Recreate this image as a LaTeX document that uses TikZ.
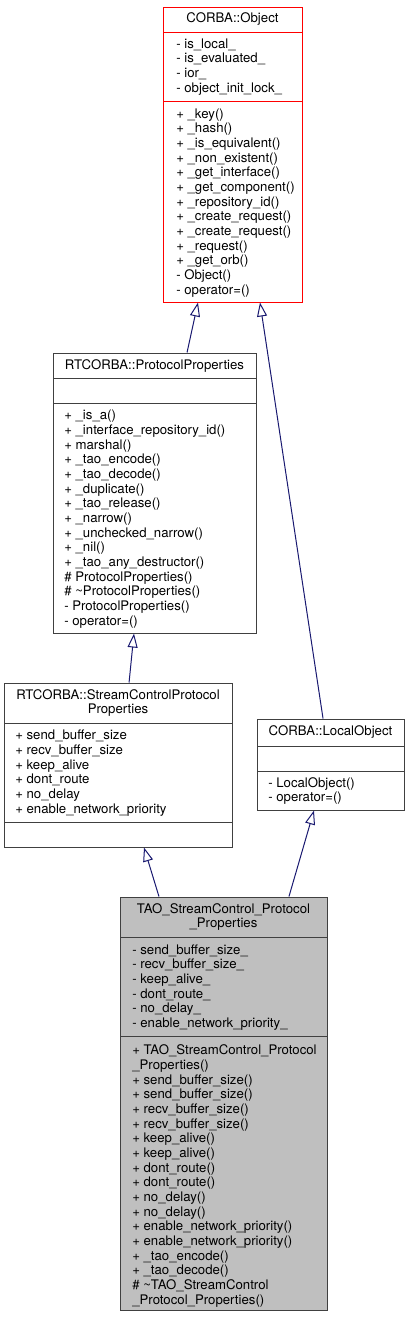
\documentclass[tikz,border=0pt]{standalone}
\usepackage{fontspec}
\setmainfont{TeX Gyre Heros}
\usetikzlibrary{arrows.meta,fit}
\definecolor{edgeblue}{HTML}{191970}
\definecolor{boxgray}{HTML}{404040}
\definecolor{taogray}{HTML}{BFBFBF}
\begin{document}
\begin{tikzpicture}[x=0.75pt, y=-0.75pt,
	classbox/.style={draw=boxgray, line width=0.75pt, inner sep=0pt},
	sep/.style={draw=boxgray, line width=0.75pt},
	title/.style={anchor=north, inner sep=0pt, align=center, font=\fontsize{9.9}{10.5}\selectfont},
	member/.style={anchor=north west, inner sep=0pt, align=left, font=\fontsize{9.9}{11}\selectfont},
	inherit/.style={draw=edgeblue, line width=0.75pt, -{Triangle[open, length=10.5pt, width=7.5pt]}}]
				\useasboundingbox (0,0) rectangle (409,1317);
				
				\node[classbox, draw=red, fit={(163,7) (302,302)}] (object) {};
				\node[classbox, fit={(53,353) (256,633)}] (protocol) {};
				\node[classbox, fit={(4,683) (232,847)}] (stream) {};
				\node[classbox, fit={(257,719) (404,810)}] (local) {};
				\node[classbox, fill=taogray, fit={(120,897) (327,1310)}] (tao) {};
				
				\draw[sep, draw=red] (163,32) -- (302,32) (163,101) -- (302,101);
				\draw[sep] (53,378) -- (256,378) (53,403) -- (256,403);
				\draw[sep] (4,723) -- (232,723) (4,822) -- (232,822);
				\draw[sep] (257,746) -- (404,746) (257,771) -- (404,771);
				\draw[sep] (120,937) -- (327,937) (120,1036) -- (327,1036);
				
				\path (232.5,12.7) node[title] (object-title) {\strut CORBA::Object}
				(176,37.7) node[member] (object-attr) {\strut - is\_local\_\\- is\_evaluated\_\\- ior\_\\- object\_init\_lock\_}
				(176,107.7) node[member] (object-ops) {\strut + \_key()\\+ \_hash()\\+ \_is\_equivalent()\\+ \_non\_existent()\\+ \_get\_interface()\\+ \_get\_component()\\+ \_repository\_id()\\+ \_create\_request()\\+ \_create\_request()\\+ \_request()\\+ \_get\_orb()\\- Object()\\- operator=()};
				
				\path (154.5,359.4) node[title] (protocol-title) {\strut RTCORBA::ProtocolProperties}
				(64,409.4) node[member] (protocol-ops) {\strut + \_is\_a()\\+ \_interface\_repository\_id()\\+ marshal()\\+ \_tao\_encode()\\+ \_tao\_decode()\\+ \_duplicate()\\+ \_tao\_release()\\+ \_narrow()\\+ \_unchecked\_narrow()\\+ \_nil()\\+ \_tao\_any\_destructor()\\\# ProtocolProperties()\\\# \textasciitilde ProtocolProperties()\\- ProtocolProperties()\\- operator=()};
				
				\path (118,689.4) node[title] (stream-title) {\strut RTCORBA::StreamControlProtocol\\Properties}
				(15,729.4) node[member] (stream-attr) {\strut + send\_buffer\_size\\+ recv\_buffer\_size\\+ keep\_alive\\+ dont\_route\\+ no\_delay\\+ enable\_network\_priority};
				
				\path (330.5,725.4) node[title] (local-title) {\strut CORBA::LocalObject}
				(268,776.7) node[member] (local-ops) {\strut - LocalObject()\\- operator=()};
				
				\path (223.5,903.7) node[title] (tao-title) {\strut TAO\_StreamControl\_Protocol\\\_Properties}
				(132,943.7) node[member] (tao-attr) {\strut - send\_buffer\_size\_\\- recv\_buffer\_size\_\\- keep\_alive\_\\- dont\_route\_\\- no\_delay\_\\- enable\_network\_priority\_}
				(132,1044.4) node[member] (tao-ops) {\strut + TAO\_StreamControl\_Protocol\\\_Properties()\\+ send\_buffer\_size()\\+ send\_buffer\_size()\\+ recv\_buffer\_size()\\+ recv\_buffer\_size()\\+ keep\_alive()\\+ keep\_alive()\\+ dont\_route()\\+ dont\_route()\\+ no\_delay()\\+ no\_delay()\\+ enable\_network\_priority()\\+ enable\_network\_priority()\\+ \_tao\_encode()\\+ \_tao\_decode()\\\# \textasciitilde TAO\_StreamControl\\\_Protocol\_Properties()};
				
				\draw[inherit] ([xshift=24.4pt]protocol.north) -- ([xshift=-25.9pt]object.south);
				\draw[inherit] ([xshift=-5.6pt]local.north) -- ([xshift=20.6pt]object.south);
				\draw[inherit] ([xshift=8.3pt]stream.north) -- ([xshift=-15.4pt]protocol.south);
				\draw[inherit] ([xshift=-48.4pt]tao.north) -- ([xshift=19.5pt]stream.south);
				\draw[inherit] ([xshift=49.1pt]tao.north) -- ([xshift=-12.4pt]local.south);
			\end{tikzpicture}
\end{document}
